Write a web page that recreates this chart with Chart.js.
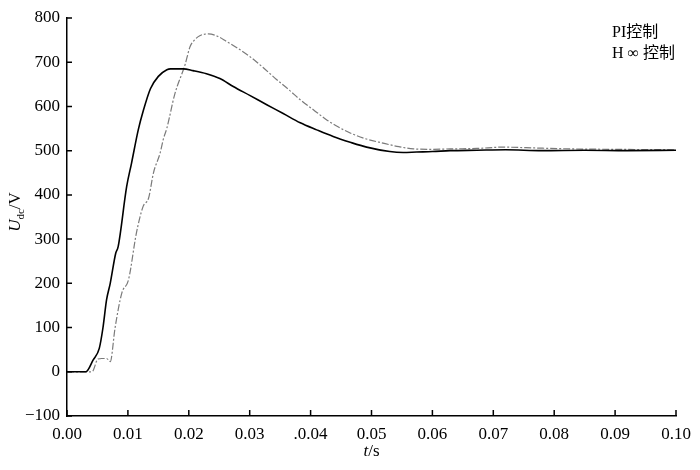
<!DOCTYPE html>
<html lang="zh">
<head>
  <meta charset="UTF-8" />
  <title>Udc response</title>
  <script src="https://cdn.jsdelivr.net/npm/chart.js"></script>
  <style>
    body { margin: 0; background: #fff; }
    canvas { display: block; }
  </style>
</head>
<body>
  <canvas id="udcChart" width="700" height="470"></canvas>

  <script>
    // tick labels (the ".0.04" is as printed in the original figure)
    const xTickLabels = ["0.00", "0.01", "0.02", "0.03", ".0.04", "0.05", "0.06", "0.07", "0.08", "0.09", "0.10"];
    const seriesNames = ["PI控制", "H ∞ 控制"];

    // PI control (grey dashed)
    const piTime = [0, 0.0041, 0.0051, 0.0057, 0.0065, 0.0071, 0.0079, 0.0090, 0.0101, 0.0114, 0.0125, 0.0134,
      0.0142, 0.0153, 0.0158, 0.0164, 0.0177, 0.0194, 0.0202, 0.0210, 0.0218, 0.0232, 0.0245, 0.0262,
      0.0280, 0.0300, 0.0322, 0.0344, 0.0365, 0.0383, 0.0405, 0.0426, 0.0445, 0.0465, 0.0490, 0.0519,
      0.0545, 0.0569, 0.0600, 0.0629, 0.0673, 0.0716, 0.0770, 0.0826, 0.0900, 0.1000];
    const piVolt = [0, 0, 29, 30, 30, 23, 100, 178, 208, 314, 374, 393,
      450, 495, 525, 551, 628, 695, 735, 751, 760, 764, 760, 747,
      732, 713, 688, 661, 637, 615, 592, 570, 554, 540, 527, 517,
      509, 504, 503, 504, 505, 508, 506, 504, 503, 502];

    // H-infinity control (black solid)
    const hinfTime = [0, 0.0031, 0.0043, 0.0053, 0.0059, 0.0065, 0.0071, 0.0080, 0.0084, 0.0098, 0.0106, 0.0117,
      0.0125, 0.0137, 0.0150, 0.0164, 0.0170, 0.0191, 0.0207, 0.0229, 0.0251, 0.0273, 0.0300, 0.0328,
      0.0355, 0.0383, 0.0410, 0.0437, 0.0465, 0.0492, 0.0530, 0.0552, 0.0574, 0.0600, 0.0629, 0.0673,
      0.0720, 0.0780, 0.0850, 0.0920, 0.1000];
    const hinfVolt = [0, 0, 27, 53, 99, 163, 200, 268, 283, 419, 472, 547,
      589, 640, 668, 683, 685, 685, 681, 674, 663, 645, 625, 604,
      584, 563, 547, 532, 519, 508, 498, 496, 497, 498, 500, 501,
      502, 500, 501, 500, 501];

    const serif = "'Liberation Serif', 'Noto Sans CJK SC', serif";
    const toPoints = (xs, ys) => xs.map((x, i) => ({ x: x, y: ys[i] }));

    // inner tick marks, axis titles and the text-only legend
    const decorations = {
      id: "decorations",
      afterDraw(chart) {
        const ctx = chart.ctx;
        const area = chart.chartArea;
        const xs = chart.scales.x, ys = chart.scales.y;
        ctx.save();
        ctx.strokeStyle = "#000";
        ctx.lineWidth = 1.5;
        ctx.beginPath();
        xs.ticks.forEach(t => {
          const px = xs.getPixelForValue(t.value);
          ctx.moveTo(px, area.bottom);
          ctx.lineTo(px, area.bottom - 6);
        });
        ys.ticks.forEach(t => {
          const py = ys.getPixelForValue(t.value);
          ctx.moveTo(area.left, py);
          ctx.lineTo(area.left + 5, py);
        });
        ctx.stroke();

        ctx.fillStyle = "#000";
        ctx.textBaseline = "alphabetic";

        // x title: t/s
        ctx.font = "italic 17px " + serif;
        const wT = ctx.measureText("t").width;
        ctx.font = "17px " + serif;
        const wS = ctx.measureText("/s").width;
        let x0 = (area.left + area.right) / 2 - (wT + wS) / 2;
        ctx.font = "italic 17px " + serif;
        ctx.fillText("t", x0, 456);
        ctx.font = "17px " + serif;
        ctx.fillText("/s", x0 + wT, 456);

        // y title: U_dc/V
        ctx.translate(20, 212);
        ctx.rotate(-Math.PI / 2);
        ctx.font = "italic 17px " + serif;
        const wU = ctx.measureText("U").width;
        ctx.font = "11px " + serif;
        const wD = ctx.measureText("dc").width;
        ctx.font = "17px " + serif;
        const wV = ctx.measureText("/V").width;
        let s = -(wU + wD + wV) / 2;
        ctx.font = "italic 17px " + serif;
        ctx.fillText("U", s, 0);
        ctx.font = "11px " + serif;
        ctx.fillText("dc", s + wU, 4);
        ctx.font = "17px " + serif;
        ctx.fillText("/V", s + wU + wD, 0);
        ctx.restore();

        // legend (text only)
        ctx.save();
        ctx.fillStyle = "#000";
        ctx.font = "16px " + serif;
        ctx.textAlign = "left";
        ctx.fillText(seriesNames[0], 612, 37);
        ctx.fillText(seriesNames[1], 612, 58);
        ctx.restore();
      }
    };

    new Chart(document.getElementById("udcChart").getContext("2d"), {
      type: "line",
      data: {
        datasets: [
          {
            label: seriesNames[1],
            data: toPoints(hinfTime, hinfVolt),
            borderColor: "#000",
            borderWidth: 1.6,
            pointRadius: 0,
            cubicInterpolationMode: "monotone",
            fill: false
          },
          {
            label: seriesNames[0],
            data: toPoints(piTime, piVolt),
            borderColor: "#7a7a7a",
            borderWidth: 1.2,
            borderDash: [7, 2, 2, 2],
            pointRadius: 0,
            cubicInterpolationMode: "monotone",
            fill: false
          }
        ]
      },
      options: {
        responsive: false,
        animation: false,
        layout: { padding: { left: 0, right: 24, top: 18, bottom: 0 } },
        plugins: { legend: { display: false }, tooltip: { enabled: false } },
        scales: {
          x: {
            type: "linear",
            min: 0,
            max: 0.1,
            afterFit: s => { s.height = 54; },
            grid: { display: false, drawTicks: false },
            border: { display: true, color: "#000", width: 1.5 },
            ticks: {
              stepSize: 0.01,
              autoSkip: false,
              maxRotation: 0,
              padding: 8,
              color: "#000",
              font: { family: serif, size: 17 },
              callback: (v, i) => xTickLabels[i]
            }
          },
          y: {
            min: -100,
            max: 800,
            afterFit: s => { s.width = 67; },
            grid: { display: false, drawTicks: false },
            border: { display: true, color: "#000", width: 1.5 },
            ticks: {
              stepSize: 100,
              padding: 7,
              color: "#000",
              font: { family: serif, size: 17 },
              callback: v => String(v).replace("-", "\u2212")
            }
          }
        }
      },
      plugins: [decorations]
    });
  </script>
</body>
</html>
